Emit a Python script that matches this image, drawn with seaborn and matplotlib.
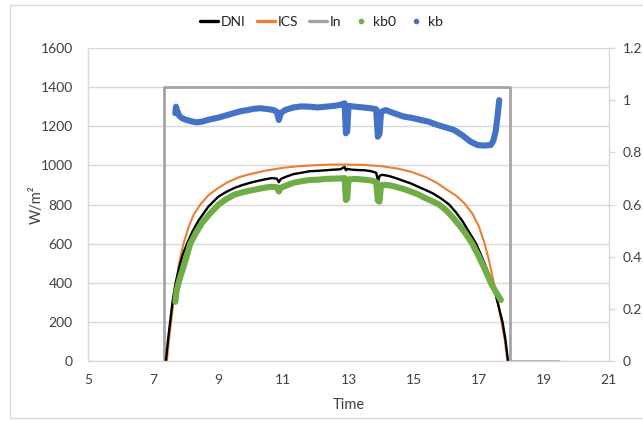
import matplotlib
matplotlib.use("Agg")
import matplotlib.pyplot as plt
from matplotlib.lines import Line2D
from matplotlib.patches import Rectangle
from matplotlib.ticker import FuncFormatter
import seaborn as sns

# ---------------- data ----------------
ics_time = [7.42, 7.5, 7.55, 7.63, 7.71, 7.8, 7.93, 8.1, 8.25, 8.45, 8.7, 9.0, 9.3, 9.68,
            10.0, 10.45, 11.0, 11.5, 12.0, 12.5, 13.0, 13.5, 14.0, 14.5, 14.91, 15.37,
            15.7, 16.0, 16.3, 16.55, 16.8, 17.0, 17.16, 17.3, 17.45, 17.58, 17.70, 17.80, 17.88]
ics_vals = [0, 130, 200, 310, 400, 500, 600, 690, 750, 800, 848, 885, 915, 942,
            956, 973, 988, 996, 1001, 1004, 1004, 1002, 996, 984, 968, 940,
            912, 878, 846, 808, 755, 690, 612, 525, 412, 305, 200, 108, 0]

dni_time = [7.39, 7.45, 7.52, 7.6, 7.69, 7.8, 7.9, 8.04, 8.2, 8.4, 8.7, 9.0, 9.25, 9.5,
            9.75, 10.0, 10.25, 10.45, 10.65, 10.8, 10.86, 10.92, 11.05, 11.3, 11.55, 11.8,
            12.05, 12.3, 12.55, 12.75, 12.88, 12.92, 12.96, 13.1, 13.3, 13.5, 13.7, 13.85,
            13.91, 13.95, 14.02, 14.24, 14.45, 14.7, 14.91, 15.15, 15.37, 15.6, 15.85,
            16.09, 16.3, 16.5, 16.7, 16.92, 17.1, 17.25, 17.42, 17.58, 17.73, 17.82, 17.90]
dni_vals = [0, 100, 200, 310, 400, 480, 540, 600, 660, 720, 790, 840, 865, 885,
            900, 912, 922, 929, 935, 932, 914, 930, 940, 955, 962, 970,
            972, 975, 978, 980, 992, 975, 982, 978, 976, 975, 970, 962,
            918, 945, 952, 946, 935, 920, 908, 890, 874, 856, 830,
            800, 760, 715, 660, 600, 530, 470, 400, 300, 200, 110, 0]

in_time = [7.32, 7.32, 17.96, 17.96, 19.47]
in_vals = [0, 1400, 1400, 0, 0]

kb0_time = [7.68, 7.72, 7.78, 7.85, 7.93, 8.02, 8.14, 8.3, 8.5, 8.75, 9.01, 9.25, 9.5, 9.75,
            10.0, 10.25, 10.45, 10.65, 10.8, 10.86, 10.92, 11.05, 11.3, 11.55, 11.8, 12.05,
            12.3, 12.55, 12.75, 12.88, 12.92, 12.96, 13.0, 13.2, 13.5, 13.7, 13.85, 13.9,
            13.95, 14.0, 14.24, 14.45, 14.7, 14.91, 15.15, 15.37, 15.6, 15.78, 16.0, 16.2,
            16.4, 16.6, 16.8, 17.0, 17.2, 17.37, 17.52, 17.68]
kb0_vals = [0.227, 0.270, 0.300, 0.330, 0.360, 0.398, 0.450, 0.488, 0.529, 0.566, 0.600, 0.621, 0.638, 0.647,
            0.654, 0.660, 0.665, 0.668, 0.666, 0.650, 0.664, 0.671, 0.683, 0.689, 0.694, 0.695,
            0.698, 0.699, 0.700, 0.701, 0.617, 0.623, 0.696, 0.698, 0.695, 0.692, 0.686, 0.615,
            0.611, 0.675, 0.674, 0.668, 0.659, 0.650, 0.638, 0.624, 0.611, 0.600, 0.578, 0.551,
            0.521, 0.488, 0.450, 0.401, 0.349, 0.300, 0.266, 0.234]

kb_time = [7.68, 7.70, 7.73, 7.8, 7.9, 8.0, 8.2, 8.34, 8.5, 8.7, 9.0, 9.25, 9.47, 9.7, 9.9,
           10.1, 10.29, 10.5, 10.7, 10.8, 10.86, 10.92, 11.05, 11.3, 11.55, 11.8, 12.05, 12.3,
           12.55, 12.75, 12.88, 12.92, 12.96, 13.0, 13.2, 13.45, 13.68, 13.85, 13.9, 13.95,
           14.0, 14.14, 14.4, 14.7, 14.95, 15.22, 15.45, 15.73, 16.0, 16.24, 16.5, 16.75,
           16.96, 17.15, 17.37, 17.45, 17.52, 17.58, 17.63]
kb_vals = [0.950, 0.975, 0.962, 0.940, 0.930, 0.925, 0.918, 0.915, 0.918, 0.925, 0.933, 0.942, 0.950, 0.958, 0.962,
           0.967, 0.969, 0.966, 0.962, 0.955, 0.924, 0.950, 0.962, 0.972, 0.976, 0.975, 0.972, 0.975,
           0.978, 0.982, 0.988, 0.873, 0.880, 0.978, 0.975, 0.972, 0.969, 0.965, 0.860, 0.870,
           0.955, 0.962, 0.950, 0.937, 0.932, 0.924, 0.918, 0.905, 0.895, 0.886, 0.865, 0.841,
           0.828, 0.826, 0.828, 0.845, 0.880, 0.940, 1.000]

x_ticks = [5, 7, 9, 11, 13, 15, 17, 19, 21]
y_ticks = [0, 200, 400, 600, 800, 1000, 1200, 1400, 1600]
y2_ticks = [0, 0.2, 0.4, 0.6, 0.8, 1.0, 1.2]
legend_labels = ["DNI", "ICS", "In", "kb0", "kb"]

C_DNI, C_ICS, C_IN, C_KB0, C_KB = "#000000", "#ED7D31", "#A5A5A5", "#70AD47", "#4472C4"
GRID = "#d9d9d9"
TXT = "#404040"

# ---------------- plot ----------------
sns.set_theme(style="white")
plt.rcParams["font.family"] = ["Lato", "DejaVu Sans"]

fig = plt.figure(figsize=(6.43, 4.21), dpi=100)
ax = fig.add_axes([0.137, 0.1425, 0.810, 0.7435])
ax2 = ax.twinx()

sns.lineplot(x=in_time, y=in_vals, ax=ax, color=C_IN, lw=2.0, estimator=None, sort=False, legend=False)
sns.lineplot(x=ics_time, y=ics_vals, ax=ax, color=C_ICS, lw=1.5, estimator=None, sort=False, legend=False)
sns.lineplot(x=dni_time, y=dni_vals, ax=ax, color=C_DNI, lw=1.7, estimator=None, sort=False, legend=False)
sns.lineplot(x=kb0_time, y=kb0_vals, ax=ax2, color=C_KB0, lw=4.4, estimator=None, sort=False,
             legend=False, solid_joinstyle="round", solid_capstyle="round")
sns.lineplot(x=kb_time, y=kb_vals, ax=ax2, color=C_KB, lw=4.4, estimator=None, sort=False,
             legend=False, solid_joinstyle="round", solid_capstyle="round")

ax.set_xlim(5, 21)
ax.set_ylim(0, 1600)
ax2.set_ylim(0, 1.2)
ax.set_xticks(x_ticks)
ax.set_yticks(y_ticks)
ax2.set_yticks(y2_ticks)
ax2.yaxis.set_major_formatter(FuncFormatter(lambda v, p: f"{v:g}"))

ax.yaxis.grid(True, color=GRID, lw=1.0)
ax.xaxis.grid(False)
ax2.grid(False)
ax.set_axisbelow(True)

for a in (ax, ax2):
    for s in a.spines.values():
        s.set_color(GRID)
        s.set_linewidth(1.0)
    a.spines["top"].set_visible(False)
ax.spines["right"].set_visible(False)
ax2.spines["left"].set_visible(False)
ax2.spines["bottom"].set_visible(False)

ax.tick_params(axis="both", length=0, labelsize=10, colors=TXT)
ax.tick_params(axis="y", pad=11)
ax.tick_params(axis="x", pad=9)
ax2.tick_params(axis="y", length=4, width=1, color=GRID, labelsize=10, labelcolor=TXT, pad=6, direction="out")

ax.set_xlabel("Time", fontsize=10.5, color=TXT, labelpad=9)
ax.set_ylabel("W/m²", fontsize=10.5, color=TXT, labelpad=-2)
ax2.set_ylabel("")

handles = [
    Line2D([], [], color=C_DNI, lw=2.4),
    Line2D([], [], color=C_ICS, lw=2.4),
    Line2D([], [], color=C_IN, lw=2.4),
    Line2D([], [], color=C_KB0, marker="o", ls="none", markersize=3),
    Line2D([], [], color=C_KB, marker="o", ls="none", markersize=3),
]
fig.legend(handles, legend_labels, loc="center", bbox_to_anchor=(0.50, 0.948), ncol=5,
           frameon=False, fontsize=10, handlelength=1.3, handletextpad=0.2, columnspacing=0.8,
           labelcolor="#202020")

fig.patches.append(Rectangle((10 / 643, 3 / 421), 640 / 643, 413 / 421, transform=fig.transFigure,
                             fill=False, edgecolor=GRID, lw=1.0))

fig.savefig("out.png", dpi=100)
